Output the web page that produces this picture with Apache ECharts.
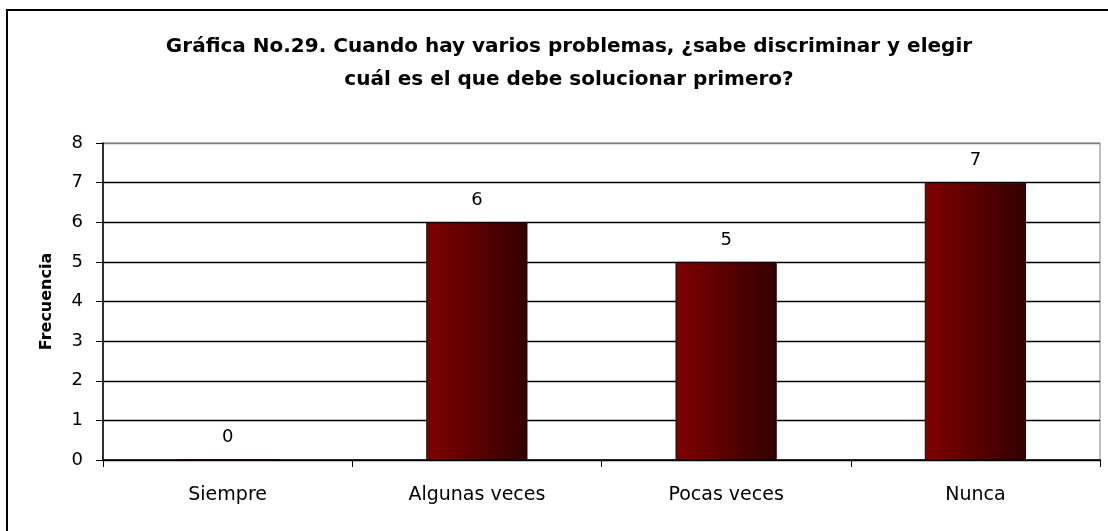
<!DOCTYPE html>
<html>
<head>
<meta charset="utf-8">
<script src="https://cdn.jsdelivr.net/npm/echarts@6/dist/echarts.min.js"></script>
<style>
    html, body { margin: 0; padding: 0; background: #fff; }
    #myChart { width: 1108px; height: 531px; }
</style>
</head>
<body>
<div id="myChart"></div>
<script>
// datos de la gráfica 29
var categorias = ['Siempre', 'Algunas veces', 'Pocas veces', 'Nunca'];
var frecuencia = [0, 6, 5, 7];
var titulo = 'Gráfica No.29. Cuando hay varios problemas, ¿sabe discriminar y elegir\ncuál es el que debe solucionar primero?';

function create_image() {
    var myChart = echarts.init(document.getElementById('myChart'));
    var fuente = '"DejaVu Sans", "Liberation Sans", Arial, sans-serif';
    var option = {
        backgroundColor: '#fff',
        animation: false,
        title: {
            text: titulo,
            left: 564,
            top: 25,
            textAlign: 'center',
            textStyle: {
                fontFamily: fuente,
                fontSize: 20,
                fontWeight: 'bold',
                color: '#000',
                lineHeight: 33
            }
        },
        graphic: [{
            type: 'rect',
            shape: { x: 7, y: 10, width: 1120, height: 540 },
            style: { fill: 'none', stroke: '#000', lineWidth: 2 },
            silent: true
        }],
        grid: {
            left: 103,
            top: 143,
            right: 8,
            bottom: 71,
            show: true,
            borderColor: '#808080',
            borderWidth: 1
        },
        xAxis: {
            type: 'category',
            data: categorias,
            axisLine: { lineStyle: { color: '#000', width: 1.5 } },
            axisTick: { show: true, length: 7, alignWithLabel: false, lineStyle: { color: '#000' } },
            axisLabel: { margin: 26, fontFamily: fuente, fontSize: 19, color: '#000' }
        },
        yAxis: {
            type: 'value',
            min: 0,
            max: 8,
            interval: 1,
            name: 'Frecuencia',
            nameLocation: 'middle',
            nameGap: 48,
            nameRotate: 90,
            nameTextStyle: { fontFamily: fuente, fontSize: 16, fontWeight: 'bold', color: '#000' },
            axisLine: { show: true, lineStyle: { color: '#000', width: 1.5 } },
            axisTick: { show: true, length: 7, lineStyle: { color: '#000' } },
            axisLabel: { margin: 20, fontFamily: fuente, fontSize: 18, color: '#000' },
            splitLine: {
                lineStyle: {
                    color: ['#000', '#000', '#000', '#000', '#000', '#000', '#000', '#000', '#808080'],
                    width: 1.3
                }
            }
        },
        series: [{
            name: 'Frecuencia',
            type: 'bar',
            data: frecuencia,
            barWidth: '40.6%',
            itemStyle: {
                color: new echarts.graphic.LinearGradient(0, 0, 1, 0, [
                    { offset: 0, color: '#800000' },
                    { offset: 1, color: '#330000' }
                ]),
                borderColor: '#1a0000',
                borderWidth: 1
            },
            label: {
                show: true,
                position: 'top',
                distance: 13,
                fontFamily: fuente,
                fontSize: 18,
                color: '#000'
            }
        }]
    };
    myChart.setOption(option);
}

create_image();
</script>
</body>
</html>
